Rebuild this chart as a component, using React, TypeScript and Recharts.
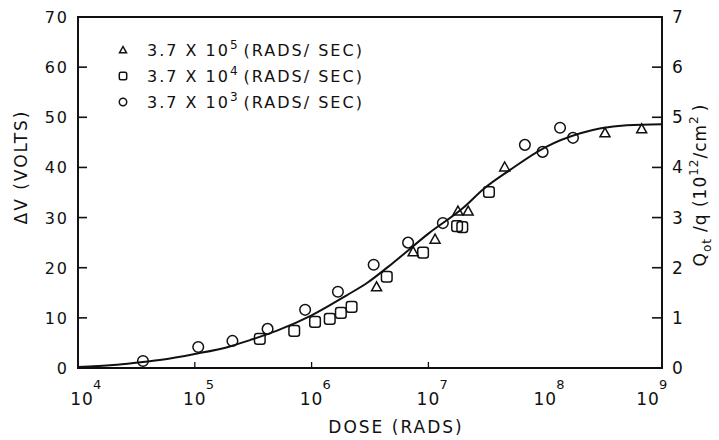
import React from 'react'
import { ComposedChart, Line, Scatter, XAxis, YAxis, ReferenceArea } from 'recharts'

// axis ticks
const doseTicks = [1e4, 1e5, 1e6, 1e7, 1e8, 1e9]
const doseExps = [4, 5, 6, 7, 8, 9]
const voltTicks = [0, 10, 20, 30, 40, 50, 60, 70]
const chargeTicks = [0, 1, 2, 3, 4, 5, 6, 7]

// legend: dose rates 3.7 x 10^n rads/sec
const rateExps = [5, 4, 3]
const rateShapes = ['triangle', 'square', 'circle']

// 3.7e5 rads/sec (triangles)
const triDose = [3.6e6, 7.4e6, 1.14e7, 1.79e7, 2.19e7, 4.5e7, 3.25e8, 6.7e8]
const triVolts = [16.2, 23.2, 25.7, 31.3, 31.3, 40.1, 46.9, 47.7]

// 3.7e4 rads/sec (squares)
const sqDose = [3.6e5, 7.1e5, 1.07e6, 1.43e6, 1.78e6, 2.2e6, 4.4e6, 9e6, 1.76e7, 1.95e7, 3.3e7]
const sqVolts = [5.8, 7.4, 9.2, 9.8, 11, 12.2, 18.2, 23, 28.3, 28.1, 35.1]

// 3.7e3 rads/sec (circles)
const circDose = [3.6e4, 1.07e5, 2.1e5, 4.2e5, 8.8e5, 1.68e6, 3.4e6, 6.7e6, 1.33e7, 6.7e7, 9.5e7, 1.34e8, 1.73e8]
const circVolts = [1.4, 4.2, 5.4, 7.8, 11.6, 15.2, 20.6, 25, 28.9, 44.5, 43.1, 47.9, 45.9]

// fitted curve
const curveDose = [1e4, 2e4, 3e4, 5e4, 1e5, 2e5, 3e5, 5e5, 1e6, 2e6, 3e6, 5e6, 1e7, 2e7, 3e7, 5e7, 1e8, 2e8, 3e8, 5e8, 1e9]
const curveVolts = [0.2, 0.6, 1.0, 1.6, 2.8, 4.3, 5.6, 7.4, 10.5, 14.5, 17, 21, 26.8, 32, 35.8, 39.5, 44, 46.8, 47.8, 48.4, 48.6]

const pairs = (xs: number[], ys: number[]) => xs.map((d, i) => ({ dose: d, v: ys[i] }))

const FONT = "'DejaVu Sans', sans-serif"
const INK = '#111'
const W = 719
const H = 440
// plot box, shared by the chart margins and the frame overlay
const PLOT = { left: 78, top: 17, right: 662, bottom: 368 }

const xOf = (d: number) => PLOT.left + ((Math.log10(d) - 4) / 5) * (PLOT.right - PLOT.left)
const yOf = (v: number) => PLOT.bottom - (v / 70) * (PLOT.bottom - PLOT.top)

const Marker = ({ kind, cx, cy, s = 1 }: { kind: string; cx: number; cy: number; s?: number }) => {
    if (kind === 'circle') return <circle cx={cx} cy={cy} r={5.3 * s} fill="none" stroke={INK} strokeWidth={1.5} />
    if (kind === 'square')
        return <rect x={cx - 5.3 * s} y={cy - 5.3 * s} width={10.6 * s} height={10.6 * s} rx={2.5 * s} fill="none" stroke={INK} strokeWidth={1.5} />
    return (
        <polygon
            points={`${cx},${cy - 5 * s} ${cx - 5 * s},${cy + 4 * s} ${cx + 5 * s},${cy + 4 * s}`}
            fill="none"
            stroke={INK}
            strokeWidth={1.5}
        />
    )
}

const LeftTick = (props: any) => {
    const { x, y, payload } = props
    return (
        <text x={x - 9} y={y} dy={6} textAnchor="end" fontSize={16} letterSpacing={2} fill={INK} fontFamily={FONT}>
            {payload.value}
        </text>
    )
}

const RightTick = (props: any) => {
    const { x, y, payload } = props
    return (
        <text x={x + 10} y={y} dy={6} textAnchor="start" fontSize={17} fill={INK} fontFamily={FONT}>
            {payload.value}
        </text>
    )
}

const DoseTick = (props: any) => {
    const { x, y, index } = props
    const shift = index === 0 ? 4 : index === doseTicks.length - 1 ? -14 : 0
    return (
        <g>
            <text x={x + shift} y={y + 37} textAnchor="middle" fontSize={17} letterSpacing={1} fill={INK} fontFamily={FONT}>
                10
            </text>
            <text x={x + shift + 11} y={y + 21} fontSize={13} fill={INK} fontFamily={FONT}>
                {doseExps[index]}
            </text>
        </g>
    )
}

// frame, inward tick marks, side titles and legend
const Overlay = () => (
    <svg width={W} height={H} style={{ position: 'absolute', left: 0, top: 0, pointerEvents: 'none' }}>
        <rect
            x={PLOT.left}
            y={PLOT.top}
            width={PLOT.right - PLOT.left}
            height={PLOT.bottom - PLOT.top}
            fill="none"
            stroke={INK}
            strokeWidth={1.8}
        />
        {voltTicks.slice(1, -1).map((v) => (
            <g key={v}>
                <path d={`M${PLOT.left},${yOf(v)}h9`} stroke={INK} strokeWidth={1.6} />
                <path d={`M${PLOT.right},${yOf(v)}h-10`} stroke={INK} strokeWidth={1.6} />
            </g>
        ))}
        {doseTicks.slice(1, -2).map((d) => (
            <path key={d} d={`M${xOf(d)},${PLOT.bottom}v-6`} stroke={INK} strokeWidth={1.3} />
        ))}
        <text transform="translate(27,167) rotate(-90)" textAnchor="middle" fontSize={17} letterSpacing={2} fill={INK} fontFamily={FONT}>
            ΔV (VOLTS)
        </text>
        <text transform="translate(706,185) rotate(-90)" textAnchor="middle" fontSize={17} letterSpacing={1} fill={INK} fontFamily={FONT}>
            Q
            <tspan dy={5} fontSize={12}>ot</tspan>
            <tspan dy={-5} dx={6}>/q (10</tspan>
            <tspan dy={-8} fontSize={12}>12</tspan>
            <tspan dy={8}>/cm</tspan>
            <tspan dy={-8} fontSize={12}>2</tspan>
            <tspan dy={8} dx={4}>)</tspan>
        </text>
        {rateExps.map((e, i) => {
            const cy = 50 + i * 26
            return (
                <g key={e}>
                    <Marker kind={rateShapes[i]} cx={123} cy={cy} s={0.7} />
                    <text x={147} y={cy + 6} fontSize={16} letterSpacing={2} fill={INK} fontFamily={FONT}>
                        3.7 X 10
                        <tspan dy={-7} fontSize={12} letterSpacing={0}>{e}</tspan>
                        <tspan dy={7} dx={6}>(RADS/ SEC)</tspan>
                    </text>
                </g>
            )
        })}
    </svg>
)

const App = () => {
    return (
        <div style={{ position: 'absolute', left: 0, top: 0, width: W, height: H, background: '#fff' }}>
            <ComposedChart width={W} height={H} margin={{ top: PLOT.top, right: 0, bottom: 0, left: 0 }}>
                <XAxis
                    dataKey="dose"
                    type="number"
                    scale="log"
                    domain={[1e4, 1e9]}
                    ticks={doseTicks}
                    allowDataOverflow
                    height={H - PLOT.bottom}
                    tickSize={0}
                    tickMargin={0}
                    tickLine={false}
                    axisLine={false}
                    tick={DoseTick}
                    label={(p: any) => (
                        <text
                            x={p.viewBox.x + p.viewBox.width / 2 + 26}
                            y={p.viewBox.y + 65}
                            textAnchor="middle"
                            fontSize={17}
                            letterSpacing={2}
                            fill={INK}
                            fontFamily={FONT}
                        >
                            DOSE (RADS)
                        </text>
                    )}
                />
                <YAxis
                    yAxisId="left"
                    type="number"
                    domain={[0, 70]}
                    ticks={voltTicks}
                    allowDataOverflow
                    width={PLOT.left}
                    tickSize={0}
                    tickMargin={0}
                    tickLine={false}
                    axisLine={false}
                    tick={LeftTick}
                />
                <YAxis
                    yAxisId="right"
                    orientation="right"
                    type="number"
                    domain={[0, 7]}
                    ticks={chargeTicks}
                    allowDataOverflow
                    width={W - PLOT.right}
                    tickSize={0}
                    tickMargin={0}
                    tickLine={false}
                    axisLine={false}
                    tick={RightTick}
                />
                {/* anchors the right-hand axis domain */}
                <ReferenceArea
                    yAxisId="right"
                    x1={1e4}
                    x2={1e9}
                    y1={0}
                    y2={7}
                    ifOverflow="extendDomain"
                    fill="#fff"
                    fillOpacity={0}
                    stroke={INK}
                    strokeWidth={1.8}
                />
                <Line
                    yAxisId="left"
                    data={pairs(curveDose, curveVolts)}
                    dataKey="v"
                    type="monotone"
                    stroke={INK}
                    strokeWidth={2}
                    dot={false}
                    activeDot={false}
                    isAnimationActive={false}
                />
                <Scatter
                    yAxisId="left"
                    data={pairs(triDose, triVolts)}
                    dataKey="v"
                    shape={(p: any) => <Marker kind="triangle" cx={p.cx} cy={p.cy} />}
                    isAnimationActive={false}
                />
                <Scatter
                    yAxisId="left"
                    data={pairs(sqDose, sqVolts)}
                    dataKey="v"
                    shape={(p: any) => <Marker kind="square" cx={p.cx} cy={p.cy} />}
                    isAnimationActive={false}
                />
                <Scatter
                    yAxisId="left"
                    data={pairs(circDose, circVolts)}
                    dataKey="v"
                    shape={(p: any) => <Marker kind="circle" cx={p.cx} cy={p.cy} />}
                    isAnimationActive={false}
                />
            </ComposedChart>
            <Overlay />
        </div>
    )
}

export default App
